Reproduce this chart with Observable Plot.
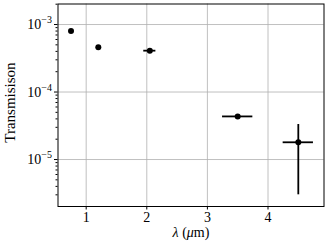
<!DOCTYPE html>
<html><head><meta charset="utf-8">
<script src="https://cdn.jsdelivr.net/npm/d3@7"></script>
<script src="https://cdn.jsdelivr.net/npm/@observablehq/plot@0.6"></script>
<style>body{margin:0;background:#fff}</style>
</head><body><div id="chart"></div>
<script>
const wavelength = [0.75, 1.2, 2.05, 3.5, 4.5];
const wavelengthErr = [0, 0, 0.1, 0.25, 0.25];
const transmission = [8.05e-4, 4.6e-4, 4.1e-4, 4.35e-5, 1.8e-5];
const transmissionErr = [0, 0, 0, 0, 1.5e-5];
const xTicks = [1, 2, 3, 4];
const yTicks = [1e-5, 1e-4, 1e-3];
const yTickExponents = ["−5", "−4", "−3"];
const yLabel = "Transmisison";
const xLabel = "λ (μm)";

const data = wavelength.map((x, i) => ({x, xerr: wavelengthErr[i], y: transmission[i], yerr: transmissionErr[i]}));
const minor = [];
for (let e = -6; e <= -3; e++) for (let m = 2; m <= 9; m++) minor.push(m * 10 ** e);
const yDomain = [10 ** -5.696, 10 ** -2.696];
const minorIn = minor.filter(v => v >= yDomain[0] && v <= yDomain[1]);

const chart = Plot.plot({
  width: 330, height: 248,
  marginLeft: 57.5, marginRight: 6.5, marginTop: 3.5, marginBottom: 42,
  style: {fontFamily: "Liberation Serif", fontSize: "14px", color: "black", background: "white"},
  x: {domain: [0.535, 4.924]},
  y: {type: "log", domain: yDomain},
  marks: [
    Plot.gridX(xTicks, {stroke: "#b0b0b0", strokeOpacity: 1, strokeWidth: 0.8}),
    Plot.gridY(yTicks, {stroke: "#b0b0b0", strokeOpacity: 1, strokeWidth: 0.8}),
    Plot.axisX(xTicks, {tickSize: 3.5, tickPadding: 2.5, fontSize: 14, label: null, stroke: "black"}),
    Plot.axisY(yTicks, {tickSize: 3.5, tickPadding: 2.5, fontSize: 14, label: null,
      tickFormat: v => "10^" + yTickExponents[yTicks.indexOf(v)]}),
    Plot.axisY(minorIn, {tickSize: 2, text: null, label: null}),
    Plot.text([yLabel], {frameAnchor: "left", textAnchor: "middle", dx: -47.5, dy: -2.7, rotate: -90, fontSize: 15, className: "ylab"}),
    Plot.text([xLabel], {frameAnchor: "bottom", dy: 30, fontSize: 14, className: "xlab"}),
    Plot.ruleY(data.filter(d => d.xerr > 0), {y: "y", x1: d => d.x - d.xerr, x2: d => d.x + d.xerr, strokeWidth: 1.8, stroke: "black"}),
    Plot.ruleX(data.filter(d => d.yerr > 0), {x: "x", y1: d => d.y - d.yerr, y2: d => d.y + d.yerr, strokeWidth: 1.8, stroke: "black"}),
    Plot.dot(data, {x: "x", y: "y", r: 3, fill: "black"}),
    Plot.frame({stroke: "black", strokeWidth: 1})
  ]
});
// superscript exponents on y tick labels
chart.querySelectorAll('g[aria-label="y-axis tick label"] text').forEach(t => {
  const s = t.textContent;
  if (!s.includes("^")) return;
  const [base, exp] = s.split("^");
  t.textContent = "";
  const b = document.createElementNS("http://www.w3.org/2000/svg", "tspan");
  b.textContent = base;
  const e = document.createElementNS("http://www.w3.org/2000/svg", "tspan");
  e.textContent = exp;
  e.setAttribute("dy", "-6");
  e.setAttribute("font-size", "10");
  t.appendChild(b); t.appendChild(e);
});
// italic lambda and mu
chart.querySelectorAll('g.xlab text').forEach(t => {
  const s = t.textContent;
  t.textContent = "";
  for (const ch of s) {
    const sp = document.createElementNS("http://www.w3.org/2000/svg", "tspan");
    sp.textContent = ch;
    if (ch === "λ" || ch === "μ") sp.setAttribute("font-style", "italic");
    t.appendChild(sp);
  }
});
document.getElementById("chart").appendChild(chart);
</script>
</body></html>
